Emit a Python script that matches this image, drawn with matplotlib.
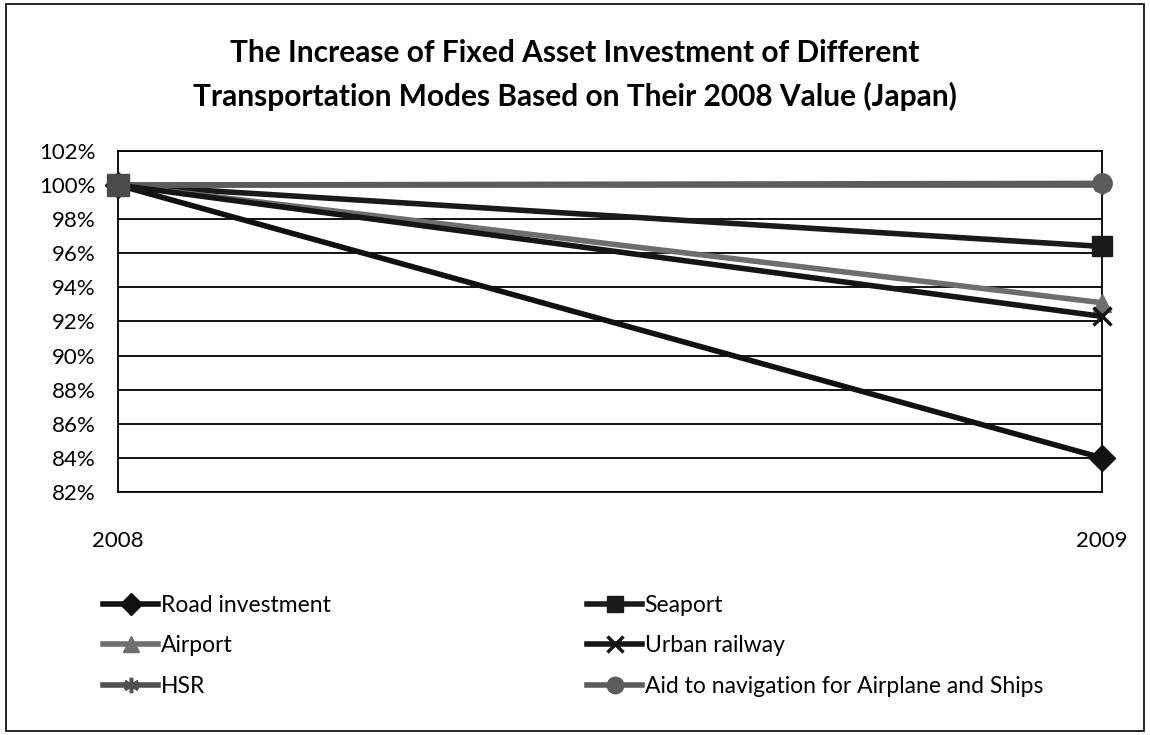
import matplotlib.pyplot as plt
from matplotlib.patches import Rectangle
from matplotlib.ticker import FuncFormatter

years = ['2008', '2009']
road = [100, 84.0]
seaport = [100, 96.4]
airport = [100, 93.1]
urban = [100, 92.3]
hsr = [100, 100.0]
aid = [100, 100.1]

plt.rcParams['font.family'] = ['Lato', 'DejaVu Sans']

fig = plt.figure(figsize=(11.5, 7.35), dpi=100)
ax = fig.add_axes([0.1026, 0.3306, 0.8557, 0.464])

x = [0, 1]
ax.plot(x, road, color='#111111', lw=4, marker='D', ms=13, label='Road investment', zorder=3)
ax.plot(x, seaport, color='#1a1a1a', lw=4, marker='s', ms=14, label='Seaport', zorder=3)
ax.plot(x, airport, color='#6e6e6e', lw=4, marker='^', ms=13, label='Airport', zorder=3)
ax.plot(x, urban, color='#151515', lw=4, marker='x', ms=13, mew=2.5, label='Urban railway', zorder=4)
ax.plot(x, hsr, color='#505050', lw=4, marker=(6, 2, 0), ms=13, mew=2.5, label='HSR', zorder=3)
ax.plot(x, aid, color='#5c5c5c', lw=4, marker='o', ms=14, label='Aid to navigation for Airplane and Ships', zorder=3)
# gray square at the common 2008 start point
ax.plot([0], [100], ls='none', marker='s', ms=16, color='#4a4a4a', zorder=5)

ax.set_xlim(0, 1)
ax.set_ylim(82, 102)
ax.set_yticks(range(82, 103, 2))
ax.yaxis.set_major_formatter(FuncFormatter(lambda v, p: f'{v:.0f}%'))
ax.set_xticks(x)
ax.set_xticklabels(years)
ax.grid(axis='y', color='black', lw=1.3)
ax.set_axisbelow(True)
ax.tick_params(axis='y', length=0, labelsize=16, pad=16)
ax.tick_params(axis='x', length=0, labelsize=16, pad=28)
for s in ax.spines.values():
    s.set_color('black')
    s.set_linewidth(1.3)
for line in ax.lines:
    line.set_clip_on(False)

fig.text(0.5, 0.898, 'The Increase of Fixed Asset Investment of Different\n'
         'Transportation Modes Based on Their 2008 Value (Japan)',
         ha='center', va='center', fontsize=21.5, fontweight='bold', linespacing=1.65)

h, l = ax.get_legend_handles_labels()
order = [0, 2, 4, 1, 3, 5]
fig.legend([h[i] for i in order], [l[i] for i in order], ncol=2,
           loc='upper left', bbox_to_anchor=(0.072, 0.219), frameon=False,
           fontsize=16.5, handlelength=2.4, handletextpad=0.1,
           columnspacing=11.2, labelspacing=0.85, markerscale=0.85)

fig.patches.append(Rectangle((0.005, 0.006), 0.99, 0.988, transform=fig.transFigure,
                             fill=False, edgecolor='black', lw=1.2))

fig.savefig('out.png', dpi=100)
